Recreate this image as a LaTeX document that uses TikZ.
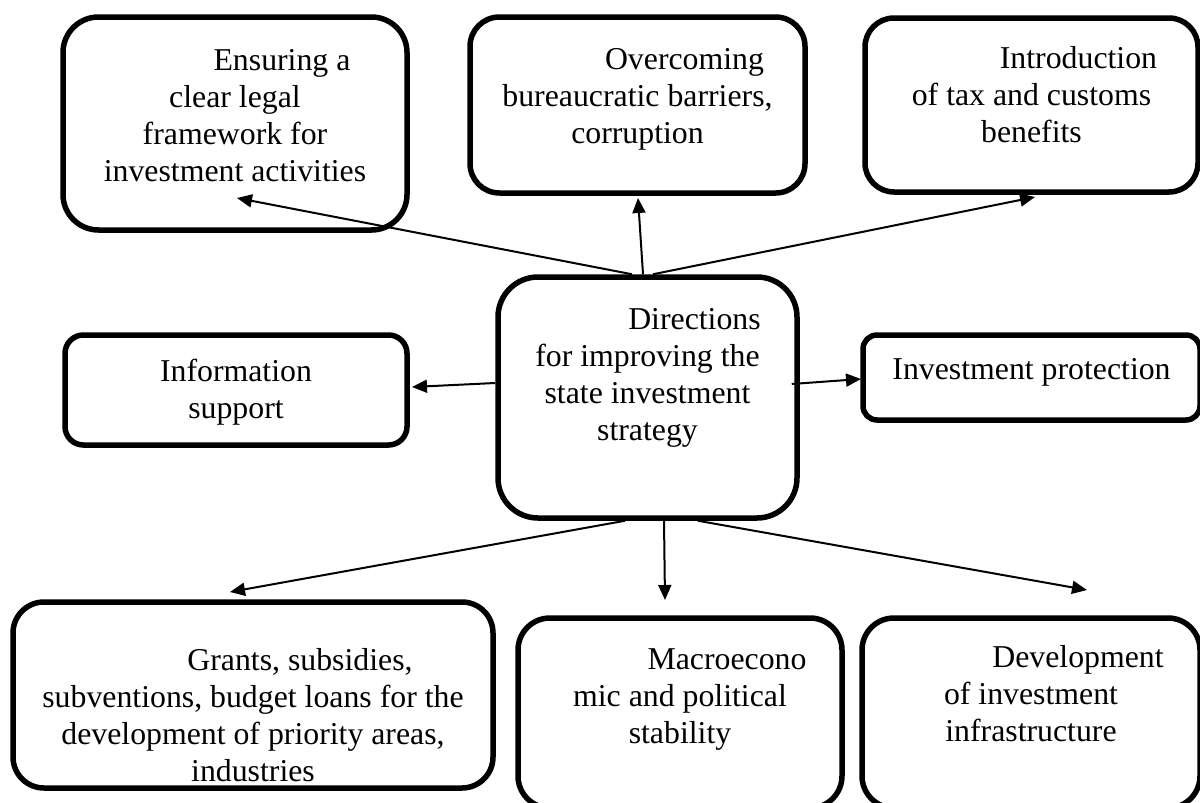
\documentclass[tikz,border=0pt]{standalone}
\usepackage{fontspec}
\setmainfont{Liberation Serif}
\usetikzlibrary{arrows.meta}
\begin{document}
\begin{tikzpicture}[x=0.5pt,y=-0.5pt,
  box/.style={draw,line width=2.75pt,inner sep=0pt,rectangle},
  txt/.style={align=center,inner sep=0pt,font=\fontsize{15.9pt}{18.5pt}\selectfont},
  arr/.style={line width=1pt,-{Triangle[length=7.5pt,width=6.5pt]}}]
\useasboundingbox (0,0) rectangle (1200,803);
% boxes
\node[box,minimum width=172pt,minimum height=106.5pt,rounded corners=17.75pt] (tl) at (235,123.5) {};
\node[box,minimum width=167.5pt,minimum height=88pt,rounded corners=14.7pt] (tm) at (637.5,105) {};
\node[box,minimum width=166.5pt,minimum height=87pt,rounded corners=14.5pt] (tr) at (1031.5,105) {};
\node[box,minimum width=149.5pt,minimum height=120.5pt,rounded corners=20pt] (c) at (647.5,397.5) {};
\node[box,minimum width=171pt,minimum height=55pt,rounded corners=9.2pt] (info) at (236,390) {};
\node[box,minimum width=168.5pt,minimum height=42.5pt,rounded corners=7pt] (ip) at (1031.5,377.5) {};
\node[box,minimum width=240pt,minimum height=93pt,rounded corners=15.5pt] (bl) at (253,695) {};
\node[box,minimum width=162pt,minimum height=95pt,rounded corners=16pt] (bm) at (680,713) {};
\node[box,minimum width=169pt,minimum height=95pt,rounded corners=16pt] (br) at (1031,713) {};
% texts
\node[txt] (tl-t) at (235,118.5) {\strut\hspace*{47pt}Ensuring a\\clear legal\\framework for\\investment activities\strut};
\node[txt] (tm-t) at (637.5,99) {\strut\hspace*{47pt}Overcoming\\bureaucratic barriers,\\corruption\strut};
\node[txt] (tr-t) at (1031.5,98.5) {\strut\hspace*{47pt}Introduction\\of tax and customs\\benefits\strut};
\node[txt] (c-t) at (647.5,378) {\strut\hspace*{47pt}Directions\\for improving the\\state investment\\strategy\strut};
\node[txt] (info-t) at (236,393) {\strut Information\\support\strut};
\node[txt] (ip-t) at (1031.5,372) {\strut Investment protection\strut};
\node[txt] (bl-t) at (253,719) {\strut\hspace*{47pt}Grants, subsidies,\\subventions, budget loans for the\\development of priority areas,\\industries\strut};
\node[txt] (bm-t) at (680,699.5) {\strut\hspace*{47pt}Macroecono\\mic and political\\stability\strut};
\node[txt] (br-t) at (1031,697.5) {\strut\hspace*{47pt}Development\\of investment\\infrastructure\strut};
% arrow tips
\coordinate (tl-tip) at (237,198);
\coordinate (tm-tip) at (638,198);
\coordinate (tr-tip) at (1035,197);
\coordinate (info-tip) at (412,387);
\coordinate (ip-tip) at (861,379);
\coordinate (bl-tip) at (230,592);
\coordinate (bm-tip) at (665,600);
\coordinate (br-tip) at (1087,590);
% connectors
\draw[arr] ([xshift=-7.75pt]c.north) -- (tl-tip);
\draw[arr] ([xshift=-2.25pt]c.north) -- (tm-tip);
\draw[arr] ([xshift=2.75pt]c.north) -- (tr-tip);
\draw[arr] ([yshift=7.25pt]c.west) -- (info-tip);
\draw[arr] ([xshift=-4pt,yshift=6.75pt]c.east) -- (ip-tip);
\draw[arr] ([xshift=-11.25pt]c.south) -- (bl-tip);
\draw[arr] ([xshift=8.25pt]c.south) -- (bm-tip);
\draw[arr] ([xshift=25.25pt]c.south) -- (br-tip);
\end{tikzpicture}
\end{document}
